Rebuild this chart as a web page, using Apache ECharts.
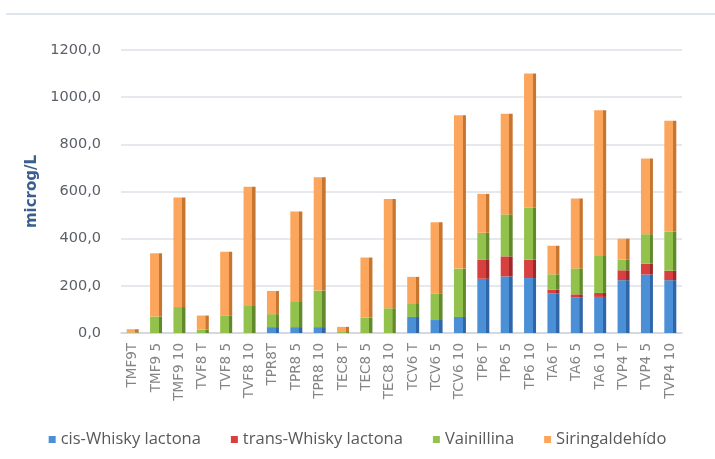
<!DOCTYPE html>
<html>
<head>
<meta charset="utf-8">
<script src="https://cdn.jsdelivr.net/npm/echarts@6/dist/echarts.min.js"></script>
<style>
  html, body { margin: 0; padding: 0; background: #ffffff; }
  #chart { width: 715px; height: 459px; }
</style>
</head>
<body>
<div id="chart"></div>
<script>
// Muestras (barrica, tiempo)
const categories = ['TMF9T', 'TMF9 5', 'TMF9 10', 'TVF8 T', 'TVF8 5', 'TVF8 10', 'TPR8T', 'TPR8 5', 'TPR8 10',
  'TEC8 T', 'TEC8 5', 'TEC8 10', 'TCV6 T', 'TCV6 5', 'TCV6 10', 'TP6 T', 'TP6 5', 'TP6 10',
  'TA6 T', 'TA6 5', 'TA6 10', 'TVP4 T', 'TVP4 5', 'TVP4 10'];

// Concentraciones en microg/L
const cisWhisky   = [0, 0, 0, 0, 0, 0, 25, 25, 25, 0, 0, 0, 68, 55, 68, 230, 240, 233, 167, 150, 153, 224, 248, 224];
const transWhisky = [0, 0, 0, 0, 0, 0, 0, 0, 0, 0, 0, 0, 0, 0, 0, 80, 85, 78, 17, 14, 17, 42, 46, 40];
const vainillina  = [2, 70, 110, 14, 75, 118, 55, 110, 155, 4, 65, 105, 55, 113, 205, 115, 178, 220, 65, 110, 160, 46, 125, 165];
const siringaldehido = [14, 268, 465, 60, 270, 502, 98, 380, 480, 22, 255, 463, 115, 302, 650, 165, 427, 569, 121, 296, 615, 88, 321, 471];

const seriesNames = ['cis-Whisky lactona', 'trans-Whisky lactona', 'Vainillina', 'Siringaldehído'];
const seriesColors = [
  ['#4b8fd6', '#2f66a8'],
  ['#d8403f', '#9c2a2a'],
  ['#93c24c', '#62892d'],
  ['#fba65c', '#c77630']
];

// Front face plus a darker right edge for a slight depth effect
function faceGradient(c) {
  return new echarts.graphic.LinearGradient(0, 0, 1, 0, [
    { offset: 0, color: c[0] },
    { offset: 0.72, color: c[0] },
    { offset: 0.73, color: c[1] },
    { offset: 1, color: c[1] }
  ]);
}

const chart = echarts.init(document.getElementById('chart'));
const dataSets = [cisWhisky, transWhisky, vainillina, siringaldehido];

const axisFont = '"DejaVu Sans", sans-serif';
const legendFont = '"Open Sans", sans-serif';

chart.setOption({
  animation: false,
  graphic: [
    { type: 'line', shape: { x1: 6, y1: 14, x2: 715, y2: 14 }, style: { stroke: '#dfe5ef', lineWidth: 2 } }
  ],
  grid: { left: 121, right: 33, top: 50, bottom: 126 },
  legend: {
    top: 426,
    left: 'center',
    itemWidth: 7,
    itemHeight: 7,
    itemGap: 30,
    icon: 'rect',
    textStyle: { fontSize: 16.5, color: '#595959', fontFamily: legendFont },
    data: seriesNames.map((n, i) => ({ name: n, itemStyle: { color: seriesColors[i][0] } }))
  },
  xAxis: {
    type: 'category',
    data: categories,
    axisTick: { show: false },
    axisLine: { lineStyle: { color: '#d0d4da', width: 1.5 } },
    axisLabel: { rotate: 90, fontSize: 13.5, color: '#858585', margin: 10, interval: 0, fontFamily: axisFont }
  },
  yAxis: {
    type: 'value',
    min: 0,
    max: 1200,
    interval: 200,
    name: 'microg/L',
    nameLocation: 'middle',
    nameGap: 78,
    nameRotate: 90,
    nameTextStyle: { fontSize: 15, fontWeight: 'bold', color: '#3a5f8f', fontFamily: axisFont },
    axisLine: { show: false },
    axisTick: { show: false },
    axisLabel: {
      fontSize: 14.5, color: '#5b6068', margin: 20, fontFamily: axisFont,
      formatter: v => v.toFixed(1).replace('.', ',')
    },
    splitLine: { lineStyle: { color: '#dde1e6', width: 1.5 } }
  },
  series: dataSets.map((d, i) => ({
    name: seriesNames[i],
    type: 'bar',
    stack: 'total',
    barWidth: 12,
    data: d,
    itemStyle: { color: faceGradient(seriesColors[i]) }
  }))
});
</script>
</body>
</html>
